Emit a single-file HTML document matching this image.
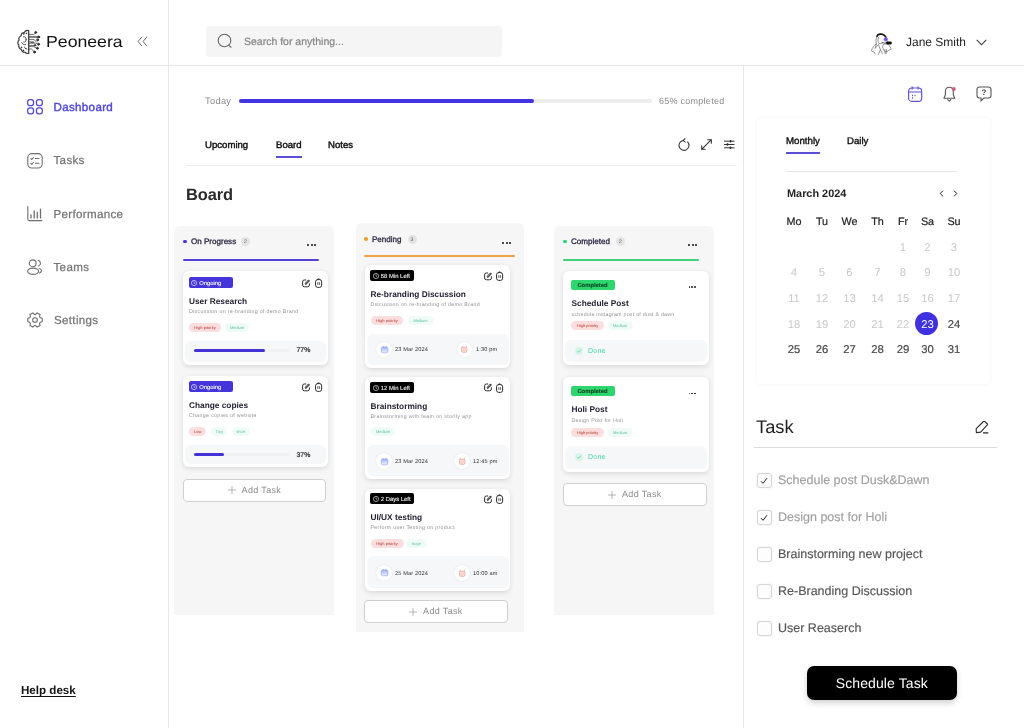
<!DOCTYPE html>
<html><head><meta charset="utf-8">
<style>
*{box-sizing:border-box;margin:0;padding:0}
html,body{width:1024px;height:728px;overflow:hidden;background:#fff}
body{font-family:"Liberation Sans",sans-serif;position:relative;color:#222;will-change:transform;text-rendering:geometricPrecision}
.a{position:absolute;white-space:nowrap;line-height:1}
.vl{position:absolute;width:1px;background:#e7e7e7}
.hl{position:absolute;height:1px;background:#e7e7e7}
svg{position:absolute;overflow:visible}
.nav{position:absolute;left:53.5px;font-size:11.6px;letter-spacing:.32px;margin-top:.4px;color:#747474;-webkit-text-stroke:.25px #747474;line-height:1;white-space:nowrap}
.col{position:absolute;background:#f6f6f6;border-radius:6px 6px 0 0}
.card{position:absolute;background:#fff;border-radius:6px;box-shadow:0 1.5px 5px rgba(0,0,0,.11)}
.tag{position:absolute;border-radius:2px;color:#fff;font-size:5.5px;font-weight:bold;line-height:1;white-space:nowrap}
.t{position:absolute;font-size:8.3px;font-weight:bold;color:#1e1d30;line-height:1;white-space:nowrap}
.d{position:absolute;font-size:5.3px;letter-spacing:.3px;color:#939393;line-height:1;white-space:nowrap}
.p{position:absolute;height:9px;border-radius:5px;font-size:4px;line-height:9px;text-align:center;white-space:nowrap}
.pr{background:#fcdede;color:#b5352b}
.pg{background:#effbf6;color:#5cc4a0}
.foot{position:absolute;background:#f5f7f9;border-radius:6px}
.add{position:absolute;background:#fff;border:1px solid #cfcfcf;border-radius:4px;font-size:8.5px;color:#8a8a8a;text-align:center;white-space:nowrap}
.ch{position:absolute;font-size:8.05px;-webkit-text-stroke:.28px #25233f;color:#25233f;line-height:1;white-space:nowrap}
.bd{position:absolute;width:9px;height:9px;border-radius:5px;background:#e3e3e3;color:#555;font-size:5px;line-height:10.4px;text-align:center}
.dots{position:absolute;font-size:0}
.dots i{display:inline-block;width:2px;height:2px;border-radius:1px;background:#111;margin-right:1.5px}
.circ{position:absolute;width:15.6px;height:15.6px;border-radius:8px;background:#fff;box-shadow:0 0 1.5px rgba(0,0,0,.13)}
.ft{position:absolute;font-size:5.6px;letter-spacing:.15px;color:#333;line-height:1;white-space:nowrap}
.wd{position:absolute;margin-top:1px;font-size:10.8px;color:#222;-webkit-text-stroke:.2px #222;line-height:1;white-space:nowrap;transform:translateX(-50%)}
.dy{position:absolute;font-size:11.3px;margin-top:2px;color:#c9c9c9;line-height:1;white-space:nowrap;transform:translateX(-50%)}
.dk{color:#4a4a4a;-webkit-text-stroke:.2px #4a4a4a}
.cb{position:absolute;left:756.5px;width:15px;height:15px;margin-top:0;border:1px solid #d6d6d6;border-radius:3px;background:#fdfdfd;box-shadow:0 0 2px rgba(0,0,0,.10)}
.ti{position:absolute;left:778px;font-size:12.5px;margin-top:1px;-webkit-text-stroke:.15px currentColor;line-height:1;white-space:nowrap;color:#555}
.ti.g{color:#a0a0a0}
</style></head><body>

<!-- frame lines -->
<div class="vl" style="left:168px;top:0;height:728px"></div>
<div class="hl" style="left:0;top:65px;width:1024px"></div>
<div class="vl" style="left:743px;top:65px;height:663px"></div>

<!-- LOGO -->
<svg style="left:17px;top:30px" width="24" height="24" viewBox="0 0 24 24" fill="none" stroke="#2b2b2b" stroke-width=".85" stroke-linecap="round" stroke-linejoin="round">
<path stroke-width="1.2" stroke="#333" d="M11.700.600C9.700.100 8 1.100 7.300 2.500 5.500 2.500 4.100 3.900 4.100 5.700 2.300 6.500 1.400 8.500 2.100 10.100.400 11.500.400 13.900 1.900 15.100 1.300 16.900 2.500 18.900 4.300 19.300 4.500 21.100 6.100 22.500 7.900 22.200 8.700 23.300 10.100 23.700 11.700 23.400z"/>
<path d="M6.500 6.800c1.700-.300 2.900 1 2.600 2.500M9.100 9.300c.300 1.600-.800 2.800-2.300 2.800M4.600 12.600c.600 1.500 2.200 2.300 3.900 2M7.300 17.200c.700.200 1.100.700 1.200 1.300M8.500 18.500l1.300.500"/>
<circle cx="9.300" cy="3.300" r=".35" fill="#2b2b2b"/><circle cx="6.700" cy="3.900" r=".35" fill="#2b2b2b"/><circle cx="4.400" cy="17.300" r=".35" fill="#2b2b2b"/><circle cx="6.300" cy="20.300" r=".35" fill="#2b2b2b"/>
<path stroke-width=".72" stroke="#3a3a3a" d="M12 4.400h4.800l1.500-1.300M12 6.400h9M12 7.600h9M12 9.600h5.200l2.300 2.600M12 11.800h4.400M12 13.200h6.400l2.300.800M14 12.500h3M12 15.400h5.200M12 16.600h4.400l3 1.400M12 19h2.400l2.700 2.600"/>
<circle cx="18.700" cy="2.400" r="1" fill="#444"/><circle cx="21.700" cy="7" r="1" fill="#444"/><circle cx="20.600" cy="9.900" r="1" fill="#444"/><circle cx="21.600" cy="14.300" r="1" fill="#444"/><circle cx="20.400" cy="18.300" r="1" fill="#444"/><circle cx="17.500" cy="22" r="1" fill="#444"/><circle cx="18" cy="15.400" r=".8" fill="#444"/>
</svg>
<div class="a" style="left:45.6px;top:35.4px;font-size:16px;color:#111;transform:scaleX(1.105);transform-origin:0 0">Peoneera</div>
<svg style="left:137px;top:36px" width="11" height="11" viewBox="0 0 11 11" fill="none" stroke="#666" stroke-width="1"><path d="M5 .8 1 5.5 5 10.2M10 .8 6 5.5 10 10.2"/></svg>

<!-- NAV -->
<svg style="left:27px;top:99px" width="16" height="16" viewBox="0 0 16 16" fill="none" stroke="#5146c9" stroke-width="1.250"><rect x=".650" y=".650" width="5.900" height="5.900" rx="2.300"/><rect x="9.450" y=".650" width="5.900" height="5.900" rx="2.300"/><rect x=".650" y="8.950" width="5.900" height="5.900" rx="2.300"/><rect x="9.450" y="8.950" width="5.900" height="5.900" rx="2.300"/></svg>
<svg style="left:27px;top:153px" width="16" height="16" viewBox="0 0 16 16" fill="none" stroke="#6e6e6e" stroke-width="1.100" stroke-linecap="round" stroke-linejoin="round"><rect x=".800" y=".600" width="14.400" height="14.400" rx="4"/><path d="M3.900 5.600l.900.900 1.600-1.800M8.400 5.500h3.600M3.900 10.400l.900.900 1.600-1.800M8.400 10.300h3.600"/></svg>
<svg style="left:27px;top:206px" width="16" height="16" viewBox="0 0 16 16" fill="none" stroke="#6e6e6e" stroke-width="1.100" stroke-linecap="round"><path d="M.800.500v12.600a1.500 1.500 0 0 0 1.500 1.500h12.500"/><path d="M4 8.800v3.200M7.200 4.800v7.200M10.300 6.400v5.600M13.500 3.200v8.800" stroke-width="1.300"/></svg>
<svg style="left:27px;top:259px" width="16" height="16" viewBox="0 0 16 16" fill="none" stroke="#6e6e6e" stroke-width="1.100" stroke-linecap="round"><circle cx="5.700" cy="4.300" r="3.400"/><ellipse cx="6.100" cy="12.250" rx="5.500" ry="3.100"/><path d="M11.300 1.400a3 3 0 0 1 .200 5.700M12.300 9.500c2.400.600 3.200 3.300.300 4.600"/></svg>
<svg style="left:26.800px;top:312.400px" width="16" height="16" viewBox="0 0 16 16" fill="none" stroke="#6e6e6e" stroke-width="1.100" stroke-linejoin="round"><path d="M13.25 5.77 L15.21 6.34 L15.21 9.66 L13.25 10.23 L12.55 11.43 L13.05 13.41 L10.16 15.08 L8.69 13.66 L7.31 13.66 L5.84 15.08 L2.95 13.41 L3.45 11.43 L2.75 10.23 L0.79 9.66 L0.79 6.34 L2.75 5.77 L3.45 4.57 L2.95 2.59 L5.84 0.92 L7.31 2.34 L8.69 2.34 L10.16 0.92 L13.05 2.59 L12.55 4.57z"/><circle cx="8" cy="8" r="2.300"/></svg>
<div class="nav" style="top:101.9px;color:#5146d9;font-size:11.6px;-webkit-text-stroke:.4px #5146d9">Dashboard</div>
<div class="nav" style="top:155px">Tasks</div>
<div class="nav" style="top:208.2px">Performance</div>
<div class="nav" style="top:262px">Teams</div>
<div class="nav" style="top:315px;left:54px">Settings</div>
<div class="a" style="left:21px;top:685.3px;font-size:11.6px;font-weight:bold;color:#111;text-decoration:underline;text-underline-offset:2px">Help desk</div>

<!-- SEARCH -->
<div class="a" style="left:206px;top:26px;width:296px;height:31px;background:#f5f5f5;border-radius:4px"></div>
<svg style="left:217px;top:33px" width="16" height="16" viewBox="0 0 16 16" fill="none" stroke="#666" stroke-width="1.1"><circle cx="7.5" cy="7.5" r="6.3"/><path d="M12 12.3l2.3 2.4"/></svg>
<div class="a" style="left:244px;top:36.5px;font-size:10.5px;color:#858585;-webkit-text-stroke:.2px #858585">Search for anything...</div>

<!-- USER -->
<svg style="left:870px;top:31px" width="24" height="24" viewBox="0 0 24 24" fill="none" stroke="#5a5a5a" stroke-width=".62" stroke-linecap="round" stroke-linejoin="round">
<path d="M7 5.400C7.400 3.400 10 2.600 12.300 3.300 14 3.800 15.300 5 16 6.300" stroke="#111" stroke-width="1.700"/>
<path d="M7.200 5.500C5.800 7.500 5.600 10.500 6.400 13 4.400 13.500 2.300 16.800 1.400 19.800L4 21 5.300 23M6.400 13 5 17.500 8.500 13.500M8.500 6.500C7.600 8.600 7.800 11 9 12.600 10.500 13 12 12.600 13 11.600M8.800 14.400 10.400 18.600 8.400 23.500M10.400 18.600 12.400 22.800M14 13c2-.600 4.200 0 5.400 1.600l1.800 3.400-4 2.400-2.200.300-1.400-1.800-1-2.800zM14.800 18.400l.400 4.400 1-.100.200-4"/>
<circle cx="15.800" cy="8.300" r="1.900" fill="#7a4fe0" stroke="#9b7bf0" stroke-width=".5"/>
<rect x="16" y="10.700" width="5.700" height="2.600" rx="1.300" fill="#111" stroke="#111" stroke-width=".4"/>
<path d="M12 11.600l4 .600" stroke="#555" stroke-width=".9"/>
</svg>
<div class="a" style="left:906px;top:36.3px;font-size:12px;color:#222">Jane Smith</div>
<svg style="left:976px;top:39px" width="11" height="7" viewBox="0 0 11 7" fill="none" stroke="#444" stroke-width="1.1"><path d="M.7.8 5.5 5.6 10.3.8"/></svg>

<!-- PROGRESS + TABS -->
<div class="a" style="left:205px;top:96.5px;font-size:9.3px;letter-spacing:.3px;color:#8a8a8a">Today</div>
<div class="a" style="left:239px;top:99px;width:413px;height:4px;border-radius:2px;background:#ececec"></div>
<div class="a" style="left:239px;top:99px;width:295px;height:4px;border-radius:2px;background:#4433e0"></div>
<div class="a" style="left:659px;top:96.5px;font-size:9px;letter-spacing:.26px;color:#8a8a8a">65% completed</div>
<div class="a" style="left:205px;top:141px;font-size:9.6px;color:#111;-webkit-text-stroke:.42px #111">Upcoming</div>
<div class="a" style="left:276px;top:141px;font-size:9.6px;color:#111;-webkit-text-stroke:.42px #111">Board</div>
<div class="a" style="left:328px;top:141px;font-size:9.6px;color:#111;-webkit-text-stroke:.42px #111">Notes</div>
<div class="a" style="left:276px;top:156px;width:26px;height:2px;background:#5b4fd6"></div>
<div class="hl" style="left:186px;top:164.5px;width:551px;background:#efefef"></div>
<svg style="left:678px;top:137.600px" width="12" height="14" viewBox="0 0 12 14" fill="none" stroke="#333" stroke-width="1.050" stroke-linecap="round" stroke-linejoin="round"><path d="M5.300 2.400A5 5 0 1 0 9.600 3.900"/><path d="M7 .600 5.200 2.400 7.200 4.100"/></svg>
<svg style="left:701.400px;top:138.800px" width="11" height="11" viewBox="0 0 11 11" fill="none" stroke="#333" stroke-width="1.100" stroke-linecap="round" stroke-linejoin="round"><path d="M.700 10.300 10.300.700M6.800.700h3.500v3.500M.700 6.800v3.500h3.500"/></svg>
<svg style="left:724.400px;top:139.600px" width="10.500" height="9" viewBox="0 0 10.500 9" fill="none" stroke="#333" stroke-width="1"><path d="M0 1.200h10.500M0 4.500h10.500M0 7.800h10.500"/><path d="M6.500 0v2.400M3.500 3.300v2.400M6.500 6.600v2.400" stroke-width="1.500"/></svg>
<div class="a" style="left:186px;top:186.5px;font-size:16.4px;font-weight:bold;color:#2a2a2a;letter-spacing:-.1px">Board</div>

<!-- BOARD -->
<!--BOARD-START-->
<div class="col" style="left:174px;top:225.500px;width:160px;height:389px"></div>
<div class="a" style="left:183px;top:239.500px;width:3.500px;height:3.500px;border-radius:2px;background:#4433e0"></div>
<div class="ch" style="left:191px;top:237.500px">On Progress</div>
<div class="bd" style="left:241px;top:236.500px">2</div>
<div class="dots" style="left:307px;top:244px"><i style="width:2px;height:2px;margin-right:1.5px;background:#111"></i><i style="width:2px;height:2px;margin-right:1.5px;background:#111"></i><i style="width:2px;height:2px;margin-right:1.5px;background:#111"></i></div>
<div class="a" style="left:183px;top:258.500px;width:136px;height:2px;background:#5341d6;border-radius:1px"></div>
<div class="card" style="left:183px;top:271px;width:145px;height:94px"></div>
<div class="tag" style="left:189px;top:277px;width:44px;height:11px;background:#4434dc"></div>
<svg style="left:191px;top:279.5px" width="6" height="6" viewBox="0 0 6 6" fill="none" stroke="#fff" stroke-width=".6"><circle cx="3" cy="3" r="2.600"/><path d="M3 1.500V3l1 .600"/></svg>
<div class="a" style="left:199.300px;top:281.6px;font-size:5.800px;-webkit-text-stroke:.12px #fff;color:#fff">Ongoing</div>
<svg style="left:302px;top:278.6px" width="8.400" height="8.400" viewBox="0 0 8.400 8.400" fill="none" stroke="#2a2a2a" stroke-width="1" stroke-linecap="round"><path d="M3.800 1H2.400A1.800 1.800 0 0 0 .600 2.800v3.200A1.800 1.800 0 0 0 2.400 7.800h3.200A1.800 1.800 0 0 0 7.400 6V4.700"/><path d="M3.700 4.700 6.700 1.700" stroke-width="2"/><path d="M3.800 4.600 6.600 1.800" stroke="#fff" stroke-width=".55"/></svg>
<svg style="left:315px;top:278px" width="7.200" height="10" viewBox="0 0 7.200 10" fill="none" stroke="#2a2a2a" stroke-width="1"><path d="M2.300 1.900C2.300.300 4.900.300 4.900 1.900" stroke-width=".8"/><rect x=".550" y="1.600" width="6.100" height="7.800" rx="2.200"/><path d="M2.800 4.300v2.500M4.400 4.300v2.500" stroke-width=".8"/></svg>
<div class="t" style="left:189px;top:297px">User Research</div>
<div class="d" style="left:189px;top:310px">Discussion on re-branding of demo Brand</div>
<div class="p pr" style="left:189px;top:322.8px;width:32px">High priority</div>
<div class="p pg" style="left:225px;top:322.8px;width:24px">Medium</div>
<div class="foot" style="left:185px;top:341px;width:141px;height:21px"></div>
<div class="a" style="left:194px;top:349.0px;width:96px;height:3.200px;border-radius:2px;background:#eff1f3"></div>
<div class="a" style="left:194px;top:349.0px;width:71px;height:3.200px;border-radius:2px;background:#4232d6"></div>
<div class="a" style="left:296.500px;top:348.3px;font-size:6.900px;-webkit-text-stroke:.2px #222;color:#222">77%</div>
<div class="card" style="left:183px;top:376.4px;width:145px;height:90.6px"></div>
<div class="tag" style="left:189px;top:381.09999999999997px;width:44px;height:11px;background:#4434dc"></div>
<svg style="left:191px;top:383.59999999999997px" width="6" height="6" viewBox="0 0 6 6" fill="none" stroke="#fff" stroke-width=".6"><circle cx="3" cy="3" r="2.600"/><path d="M3 1.500V3l1 .600"/></svg>
<div class="a" style="left:199.300px;top:385.7px;font-size:5.800px;-webkit-text-stroke:.12px #fff;color:#fff">Ongoing</div>
<svg style="left:302px;top:382.7px" width="8.400" height="8.400" viewBox="0 0 8.400 8.400" fill="none" stroke="#2a2a2a" stroke-width="1" stroke-linecap="round"><path d="M3.800 1H2.400A1.800 1.800 0 0 0 .600 2.800v3.200A1.800 1.800 0 0 0 2.400 7.800h3.200A1.800 1.800 0 0 0 7.400 6V4.700"/><path d="M3.700 4.700 6.700 1.700" stroke-width="2"/><path d="M3.800 4.600 6.600 1.800" stroke="#fff" stroke-width=".55"/></svg>
<svg style="left:315px;top:382.09999999999997px" width="7.200" height="10" viewBox="0 0 7.200 10" fill="none" stroke="#2a2a2a" stroke-width="1"><path d="M2.300 1.900C2.300.300 4.900.300 4.900 1.900" stroke-width=".8"/><rect x=".550" y="1.600" width="6.100" height="7.800" rx="2.200"/><path d="M2.800 4.300v2.500M4.400 4.300v2.500" stroke-width=".8"/></svg>
<div class="t" style="left:189px;top:401.09999999999997px">Change copies</div>
<div class="d" style="left:189px;top:414.09999999999997px">Change copies of website</div>
<div class="p pr" style="left:189.3px;top:426.9px;width:17px">Low</div>
<div class="p pg" style="left:211.3px;top:426.9px;width:16px">Tiny</div>
<div class="p pg" style="left:232px;top:426.9px;width:17.5px">short</div>
<div class="foot" style="left:185px;top:444.59999999999997px;width:141px;height:19.8px"></div>
<div class="a" style="left:194px;top:452.59999999999997px;width:96px;height:3.200px;border-radius:2px;background:#eff1f3"></div>
<div class="a" style="left:194px;top:452.59999999999997px;width:30px;height:3.200px;border-radius:2px;background:#4232d6"></div>
<div class="a" style="left:296.500px;top:452.59999999999997px;font-size:6.900px;-webkit-text-stroke:.2px #222;color:#222">37%</div>
<div class="add" style="left:182.8px;top:478.5px;width:143.5px;height:23.3px"></div><svg style="left:227.55px;top:486.15px" width="8" height="8" viewBox="0 0 8 8" stroke="#999" stroke-width=".7"><path d="M4 0v8M0 4h8"/></svg><div class="a" style="left:241.55px;top:485.65px;font-size:9px;color:#8a8a8a;letter-spacing:.35px">Add Task</div>
<div class="col" style="left:355.800px;top:223px;width:168.400px;height:409px"></div>
<div class="a" style="left:364.200px;top:237.400px;width:3.800px;height:3.800px;border-radius:2px;background:#ec9a24"></div>
<div class="ch" style="left:372px;top:236px">Pending</div>
<div class="bd" style="left:407.500px;top:235.300px">3</div>
<div class="dots" style="left:502.3px;top:241.8px"><i style="width:2px;height:2px;margin-right:1.5px;background:#111"></i><i style="width:2px;height:2px;margin-right:1.5px;background:#111"></i><i style="width:2px;height:2px;margin-right:1.5px;background:#111"></i></div>
<div class="a" style="left:364px;top:255.200px;width:151px;height:2px;background:#efa044;border-radius:1px"></div>
<div class="card" style="left:365px;top:265px;width:145px;height:103px"></div>
<div class="tag" style="left:370px;top:270px;width:44px;height:11px;background:#000"></div>
<svg style="left:373px;top:272.9px" width="6" height="6" viewBox="0 0 6 6" fill="none" stroke="#fff" stroke-width=".6"><circle cx="3" cy="3" r="2.600"/><path d="M3 1.500V3l1 .600"/></svg>
<div class="a" style="left:380.800px;top:274.95px;font-size:5.900px;-webkit-text-stroke:.12px #eee;color:#eee">58 Min Left</div>
<svg style="left:483.5px;top:271.8px" width="8.400" height="8.400" viewBox="0 0 8.400 8.400" fill="none" stroke="#2a2a2a" stroke-width="1" stroke-linecap="round"><path d="M3.800 1H2.400A1.800 1.800 0 0 0 .600 2.800v3.200A1.800 1.800 0 0 0 2.400 7.800h3.200A1.800 1.800 0 0 0 7.400 6V4.700"/><path d="M3.700 4.700 6.700 1.700" stroke-width="2"/><path d="M3.800 4.600 6.600 1.800" stroke="#fff" stroke-width=".55"/></svg>
<svg style="left:496.2px;top:271.3px" width="7.200" height="10" viewBox="0 0 7.200 10" fill="none" stroke="#2a2a2a" stroke-width="1"><path d="M2.300 1.900C2.300.300 4.900.300 4.900 1.900" stroke-width=".8"/><rect x=".550" y="1.600" width="6.100" height="7.800" rx="2.200"/><path d="M2.800 4.300v2.500M4.400 4.300v2.500" stroke-width=".8"/></svg>
<div class="t" style="left:370.500px;top:290px">Re-branding Discussion</div>
<div class="d" style="left:370.500px;top:303px">Discussion on re-branding of demo Brand</div>
<div class="p pr" style="left:371px;top:315.6px;width:32px">High priority</div>
<div class="p pg" style="left:407.5px;top:315.6px;width:26px">Medium</div>
<div class="foot" style="left:366.500px;top:334px;width:142.500px;height:31px"></div>
<div class="circ" style="left:376.400px;top:341.6px"></div>
<svg style="left:381px;top:345.9px" width="7.200" height="7" viewBox="0 0 7.200 7"><defs><linearGradient id="cg" x1="0" y1="0" x2="0" y2="1"><stop offset="0" stop-color="#9fb3f3"/><stop offset=".45" stop-color="#c3d0f8"/><stop offset="1" stop-color="#eef2fd"/></linearGradient></defs><rect x=".2" y=".9" width="6.800" height="5.900" rx="1.700" fill="url(#cg)" stroke="#7f99ee" stroke-width=".55"/><path d="M2.100.200v1.300M5.100.200v1.300" stroke="#7d95ec" stroke-width=".7" fill="none"/></svg>
<div class="ft" style="left:395px;top:348.4px">23 Mar 2024</div>
<div class="circ" style="left:456.6px;top:341.6px"></div>
<svg style="left:461.20000000000005px;top:346.2px" width="6.400" height="6.600" viewBox="0 0 6.400 6.600" fill="#fff3ef" stroke="#e58d7c" stroke-width=".65"><rect x=".500" y="1.300" width="5.400" height="5" rx="1.300"/><circle cx="3.200" cy="3.900" r="1.300" fill="none" stroke-width=".5"/><path d="M.400 1.200 1.700.300M6 1.200 4.700.300" fill="none" stroke-width=".8"/></svg>
<div class="ft" style="left:476px;top:348.4px">1:30 pm</div>
<div class="card" style="left:365px;top:377px;width:145px;height:102px"></div>
<div class="tag" style="left:370px;top:381.6px;width:44px;height:11px;background:#000"></div>
<svg style="left:373px;top:384.5px" width="6" height="6" viewBox="0 0 6 6" fill="none" stroke="#fff" stroke-width=".6"><circle cx="3" cy="3" r="2.600"/><path d="M3 1.500V3l1 .600"/></svg>
<div class="a" style="left:380.800px;top:386.55px;font-size:5.900px;-webkit-text-stroke:.12px #eee;color:#eee">12 Min Left</div>
<svg style="left:483.5px;top:383.40000000000003px" width="8.400" height="8.400" viewBox="0 0 8.400 8.400" fill="none" stroke="#2a2a2a" stroke-width="1" stroke-linecap="round"><path d="M3.800 1H2.400A1.800 1.800 0 0 0 .600 2.800v3.200A1.800 1.800 0 0 0 2.400 7.800h3.200A1.800 1.800 0 0 0 7.400 6V4.700"/><path d="M3.700 4.700 6.700 1.700" stroke-width="2"/><path d="M3.800 4.600 6.600 1.800" stroke="#fff" stroke-width=".55"/></svg>
<svg style="left:496.2px;top:382.90000000000003px" width="7.200" height="10" viewBox="0 0 7.200 10" fill="none" stroke="#2a2a2a" stroke-width="1"><path d="M2.300 1.900C2.300.300 4.900.300 4.900 1.900" stroke-width=".8"/><rect x=".550" y="1.600" width="6.100" height="7.800" rx="2.200"/><path d="M2.800 4.300v2.500M4.400 4.300v2.500" stroke-width=".8"/></svg>
<div class="t" style="left:370.500px;top:401.6px">Brainstorming</div>
<div class="d" style="left:370.500px;top:414.6px">Brainstorming with team on storlly app</div>
<div class="p pg" style="left:371px;top:427.20000000000005px;width:24px">Medium</div>
<div class="foot" style="left:366.500px;top:445px;width:142.500px;height:31px"></div>
<div class="circ" style="left:376.400px;top:453.40000000000003px"></div>
<svg style="left:381px;top:457.7px" width="7.200" height="7" viewBox="0 0 7.200 7"><defs><linearGradient id="cg" x1="0" y1="0" x2="0" y2="1"><stop offset="0" stop-color="#9fb3f3"/><stop offset=".45" stop-color="#c3d0f8"/><stop offset="1" stop-color="#eef2fd"/></linearGradient></defs><rect x=".2" y=".9" width="6.800" height="5.900" rx="1.700" fill="url(#cg)" stroke="#7f99ee" stroke-width=".55"/><path d="M2.100.200v1.300M5.100.200v1.300" stroke="#7d95ec" stroke-width=".7" fill="none"/></svg>
<div class="ft" style="left:395px;top:460.2px">23 Mar 2024</div>
<div class="circ" style="left:454px;top:453.40000000000003px"></div>
<svg style="left:458.6px;top:458.0px" width="6.400" height="6.600" viewBox="0 0 6.400 6.600" fill="#fff3ef" stroke="#e58d7c" stroke-width=".65"><rect x=".500" y="1.300" width="5.400" height="5" rx="1.300"/><circle cx="3.200" cy="3.900" r="1.300" fill="none" stroke-width=".5"/><path d="M.400 1.200 1.700.300M6 1.200 4.700.300" fill="none" stroke-width=".8"/></svg>
<div class="ft" style="left:473px;top:460.2px">12:45 pm</div>
<div class="card" style="left:365px;top:489px;width:145px;height:102px"></div>
<div class="tag" style="left:370px;top:493.1px;width:44px;height:11px;background:#000"></div>
<svg style="left:373px;top:496.0px" width="6" height="6" viewBox="0 0 6 6" fill="none" stroke="#fff" stroke-width=".6"><circle cx="3" cy="3" r="2.600"/><path d="M3 1.500V3l1 .600"/></svg>
<div class="a" style="left:380.800px;top:498.05px;font-size:5.900px;-webkit-text-stroke:.12px #eee;color:#eee">2 Days Left</div>
<svg style="left:483.5px;top:494.90000000000003px" width="8.400" height="8.400" viewBox="0 0 8.400 8.400" fill="none" stroke="#2a2a2a" stroke-width="1" stroke-linecap="round"><path d="M3.800 1H2.400A1.800 1.800 0 0 0 .600 2.800v3.200A1.800 1.800 0 0 0 2.400 7.800h3.200A1.800 1.800 0 0 0 7.400 6V4.700"/><path d="M3.700 4.700 6.700 1.700" stroke-width="2"/><path d="M3.800 4.600 6.600 1.800" stroke="#fff" stroke-width=".55"/></svg>
<svg style="left:496.2px;top:494.40000000000003px" width="7.200" height="10" viewBox="0 0 7.200 10" fill="none" stroke="#2a2a2a" stroke-width="1"><path d="M2.300 1.900C2.300.300 4.900.300 4.900 1.900" stroke-width=".8"/><rect x=".550" y="1.600" width="6.100" height="7.800" rx="2.200"/><path d="M2.800 4.300v2.500M4.400 4.300v2.500" stroke-width=".8"/></svg>
<div class="t" style="left:370.500px;top:513.1px">UI/UX testing</div>
<div class="d" style="left:370.500px;top:526.1px">Perform user Testing on product</div>
<div class="p pr" style="left:370.5px;top:538.7px;width:33px">High priority</div>
<div class="p pg" style="left:406px;top:538.7px;width:21px">huge</div>
<div class="foot" style="left:366.500px;top:556px;width:142.500px;height:32px"></div>
<div class="circ" style="left:376.400px;top:565.1px"></div>
<svg style="left:381px;top:569.4px" width="7.200" height="7" viewBox="0 0 7.200 7"><defs><linearGradient id="cg" x1="0" y1="0" x2="0" y2="1"><stop offset="0" stop-color="#9fb3f3"/><stop offset=".45" stop-color="#c3d0f8"/><stop offset="1" stop-color="#eef2fd"/></linearGradient></defs><rect x=".2" y=".9" width="6.800" height="5.900" rx="1.700" fill="url(#cg)" stroke="#7f99ee" stroke-width=".55"/><path d="M2.100.200v1.300M5.100.200v1.300" stroke="#7d95ec" stroke-width=".7" fill="none"/></svg>
<div class="ft" style="left:395px;top:571.9px">25 Mar 2024</div>
<div class="circ" style="left:454.2px;top:565.1px"></div>
<svg style="left:458.8px;top:569.7px" width="6.400" height="6.600" viewBox="0 0 6.400 6.600" fill="#fff3ef" stroke="#e58d7c" stroke-width=".65"><rect x=".500" y="1.300" width="5.400" height="5" rx="1.300"/><circle cx="3.200" cy="3.900" r="1.300" fill="none" stroke-width=".5"/><path d="M.400 1.200 1.700.300M6 1.200 4.700.300" fill="none" stroke-width=".8"/></svg>
<div class="ft" style="left:473px;top:571.9px">10:00 am</div>
<div class="add" style="left:364.3px;top:600.2px;width:143.5px;height:23px"></div><svg style="left:409.05px;top:607.7px" width="8" height="8" viewBox="0 0 8 8" stroke="#999" stroke-width=".7"><path d="M4 0v8M0 4h8"/></svg><div class="a" style="left:423.05px;top:607.2px;font-size:9px;color:#8a8a8a;letter-spacing:.35px">Add Task</div>
<div class="col" style="left:554px;top:225.500px;width:160px;height:389px"></div>
<div class="a" style="left:563px;top:239.500px;width:3.500px;height:3.500px;border-radius:2px;background:#2fd07a"></div>
<div class="ch" style="left:571px;top:237.500px">Completed</div>
<div class="bd" style="left:616px;top:236.500px">2</div>
<div class="dots" style="left:688px;top:244px"><i style="width:2px;height:2px;margin-right:1.5px;background:#111"></i><i style="width:2px;height:2px;margin-right:1.5px;background:#111"></i><i style="width:2px;height:2px;margin-right:1.5px;background:#111"></i></div>
<div class="a" style="left:563px;top:258.500px;width:136px;height:2px;background:#42d27c;border-radius:1px"></div>
<div class="card" style="left:563px;top:271px;width:146px;height:94px"></div>
<div class="tag" style="left:571px;top:279.5px;width:44px;height:10.500px;background:#2dd66e;color:#0b4a25;text-align:center;line-height:12.300px;font-size:5.850px;-webkit-text-stroke:.12px #0b4a25;text-indent:-1px">Completed</div>
<div class="dots" style="left:688.8px;top:286.2px"><i style="width:1.7px;height:1.7px;margin-right:0.9px;background:#222"></i><i style="width:1.7px;height:1.7px;margin-right:0.9px;background:#222"></i><i style="width:1.7px;height:1.7px;margin-right:0.9px;background:#222"></i></div>
<div class="t" style="left:571.500px;top:298.9px">Schedule Post</div>
<div class="d" style="left:571.500px;top:312.9px;letter-spacing:.24px">schedule instagram post of dust &amp; dawn</div>
<div class="p pr" style="left:571.3px;top:321.2px;width:32.5px">High priority</div>
<div class="p pg" style="left:607.5px;top:321.2px;width:25px">Medium</div>
<div class="foot" style="left:565px;top:340px;width:142px;height:22px"></div>
<svg style="left:575px;top:347px" width="8" height="8" viewBox="0 0 8 8" fill="#d6f5e6" stroke="#3dd6a0" stroke-width=".700"><rect x=".300" y=".300" width="7.400" height="7.400" rx="2.600" stroke="none"/><path d="M2.300 4.100 3.500 5.300 5.800 2.700" fill="none"/></svg>
<div class="a" style="left:588px;top:347.9px;font-size:7px;letter-spacing:.25px;color:#3dd6a0">Done</div>
<div class="card" style="left:563px;top:377.3px;width:146px;height:94.5px"></div>
<div class="tag" style="left:571px;top:385.8px;width:44px;height:10.500px;background:#2dd66e;color:#0b4a25;text-align:center;line-height:12.300px;font-size:5.850px;-webkit-text-stroke:.12px #0b4a25;text-indent:-1px">Completed</div>
<div class="dots" style="left:688.8px;top:392.5px"><i style="width:1.7px;height:1.7px;margin-right:0.9px;background:#222"></i><i style="width:1.7px;height:1.7px;margin-right:0.9px;background:#222"></i><i style="width:1.7px;height:1.7px;margin-right:0.9px;background:#222"></i></div>
<div class="t" style="left:571.500px;top:405.2px">Holi Post</div>
<div class="d" style="left:571.500px;top:419.2px;letter-spacing:.24px">Design Post for Holi</div>
<div class="p pr" style="left:571.3px;top:427.5px;width:32.5px">High priority</div>
<div class="p pg" style="left:607.5px;top:427.5px;width:25px">Medium</div>
<div class="foot" style="left:565px;top:446.0px;width:142px;height:22.8px"></div>
<svg style="left:575px;top:453.0px" width="8" height="8" viewBox="0 0 8 8" fill="#d6f5e6" stroke="#3dd6a0" stroke-width=".700"><rect x=".300" y=".300" width="7.400" height="7.400" rx="2.600" stroke="none"/><path d="M2.300 4.100 3.500 5.300 5.800 2.700" fill="none"/></svg>
<div class="a" style="left:588px;top:453.9px;font-size:7px;letter-spacing:.25px;color:#3dd6a0">Done</div>
<div class="add" style="left:563.2px;top:483.2px;width:143.5px;height:23.2px"></div><svg style="left:607.95px;top:490.8px" width="8" height="8" viewBox="0 0 8 8" stroke="#999" stroke-width=".7"><path d="M4 0v8M0 4h8"/></svg><div class="a" style="left:621.95px;top:490.3px;font-size:9px;color:#8a8a8a;letter-spacing:.35px">Add Task</div>
<!--BOARD-END-->
<!-- RIGHT -->
<svg style="left:908px;top:86px" width="14.3" height="16" viewBox="0 0 14.3 16" fill="none" stroke="#5b4fd6" stroke-width="1.15"><rect x=".6" y="2" width="13.1" height="13.4" rx="3.2"/><path d="M.6 6h13.100M4.200.400v3M10.100.400v3"/><path d="M4 9.5h1M6.5 9.5h1M4 12h1" stroke-width="1.3"/></svg>
<svg style="left:943px;top:86px" width="13" height="16" viewBox="0 0 13 16" fill="none" stroke="#555" stroke-width="1.100" stroke-linejoin="round"><path d="M6.300 1.200c-2.300 0-3.900 1.800-3.900 4.300v3.300L.900 12.200h10.900l-1.500-3.400V5.500c0-2.500-1.600-4.300-4-4.300zM4.600 13.200c.300 1.100.900 1.700 1.700 1.700s1.400-.600 1.700-1.700"/><circle cx="10.800" cy="2.900" r="2" fill="#c95c80" stroke="none"/></svg>
<svg style="left:976px;top:86px" width="16" height="16" viewBox="0 0 16 16" fill="none" stroke="#555" stroke-width="1.1"><path d="M3.500 1h9A2.500 2.500 0 0 1 15 3.500v6A2.500 2.500 0 0 1 12.500 12H8l-3 2.800V12H3.500A2.500 2.500 0 0 1 1 9.500v-6A2.500 2.500 0 0 1 3.500 1z"/></svg>
<div class="a" style="left:980.500px;top:89.3px;font-size:8px;font-weight:bold;color:#444;width:7px;text-align:center">?</div>
<div class="a" style="left:757px;top:118px;width:233px;height:266px;background:#fff;border-radius:4px;box-shadow:0 0 4px rgba(0,0,0,.055)"></div>
<div class="a" style="left:786px;top:137px;font-size:9.7px;color:#111;-webkit-text-stroke:.38px #111">Monthly</div>
<div class="a" style="left:847px;top:137px;font-size:9.6px;color:#111;-webkit-text-stroke:.38px #111">Daily</div>
<div class="a" style="left:786px;top:152px;width:34px;height:2px;background:#5b4fd6"></div>
<div class="hl" style="left:786px;top:171px;width:171px;background:#e6e6e6"></div>
<div class="a" style="left:787px;top:188.6px;font-size:10.9px;font-weight:bold;color:#222">March 2024</div>
<svg style="left:939px;top:190px" width="5" height="7" viewBox="0 0 5 7" fill="none" stroke="#222" stroke-width="1"><path d="M4 .700 1.200 3.500 4 6.300"/></svg>
<svg style="left:953px;top:190px" width="5" height="7" viewBox="0 0 5 7" fill="none" stroke="#222" stroke-width="1"><path d="M1 .700 3.800 3.500 1 6.300"/></svg>
<div class="wd" style="left:794px;top:216px">Mo</div>
<div class="wd" style="left:822px;top:216px">Tu</div>
<div class="wd" style="left:849.5px;top:216px">We</div>
<div class="wd" style="left:877.5px;top:216px">Th</div>
<div class="wd" style="left:903px;top:216px">Fr</div>
<div class="wd" style="left:927.5px;top:216px">Sa</div>
<div class="wd" style="left:954px;top:216px">Su</div>
<div class="a" style="left:915px;top:312.2px;width:23px;height:23px;border-radius:12px;background:#3f30e0"></div>
<div class="dy" style="left:903px;top:241px;">1</div>
<div class="dy" style="left:927.5px;top:241px;">2</div>
<div class="dy" style="left:954px;top:241px;">3</div>
<div class="dy" style="left:794px;top:266px;">4</div>
<div class="dy" style="left:822px;top:266px;">5</div>
<div class="dy" style="left:849.5px;top:266px;">6</div>
<div class="dy" style="left:877.5px;top:266px;">7</div>
<div class="dy" style="left:903px;top:266px;">8</div>
<div class="dy" style="left:927.5px;top:266px;">9</div>
<div class="dy" style="left:954px;top:266px;">10</div>
<div class="dy" style="left:794px;top:292px;">11</div>
<div class="dy" style="left:822px;top:292px;">12</div>
<div class="dy" style="left:849.5px;top:292px;">13</div>
<div class="dy" style="left:877.5px;top:292px;">14</div>
<div class="dy" style="left:903px;top:292px;">15</div>
<div class="dy" style="left:927.5px;top:292px;">16</div>
<div class="dy" style="left:954px;top:292px;">17</div>
<div class="dy" style="left:794px;top:317.5px;">18</div>
<div class="dy" style="left:822px;top:317.5px;">19</div>
<div class="dy" style="left:849.5px;top:317.5px;">20</div>
<div class="dy" style="left:877.5px;top:317.5px;">21</div>
<div class="dy" style="left:903px;top:317.5px;">22</div>
<div class="dy" style="left:927.5px;top:317.5px;color:#fff;">23</div>
<div class="dy dk" style="left:954px;top:317.5px;">24</div>
<div class="dy dk" style="left:794px;top:343px;">25</div>
<div class="dy dk" style="left:822px;top:343px;">26</div>
<div class="dy dk" style="left:849.5px;top:343px;">27</div>
<div class="dy dk" style="left:877.5px;top:343px;">28</div>
<div class="dy dk" style="left:903px;top:343px;">29</div>
<div class="dy dk" style="left:927.5px;top:343px;">30</div>
<div class="dy dk" style="left:954px;top:343px;">31</div>
<div class="a" style="left:756px;top:418.4px;font-size:18.3px;color:#222">Task</div>
<svg style="left:975px;top:420px" width="14" height="14" viewBox="0 0 14 14" fill="none" stroke="#2e2e2e" stroke-width="1.15" stroke-linejoin="round" stroke-linecap="round"><path d="M8.500 1.500Q9.100.900 9.700 1.500L12.300 3.700Q12.900 4.300 12.300 4.900L5.600 12.100 1.900 12.600Q1.300 12.600 1.300 12L1.200 8.700z"/><path d="M8 12.900h5.400" stroke-width="1.3" stroke-linecap="butt"/></svg>
<div class="hl" style="left:754px;top:447px;width:243px;background:#dcdcdc"></div>
<div class="cb" style="top:473px"></div><svg style="left:760px;top:476.5px" width="8" height="8" viewBox="0 0 8 8" fill="none" stroke="#222" stroke-width="1"><path d="M1 4.200 3 6.300 7 1.200"/></svg><div class="ti g" style="top:473px">Schedule post Dusk&amp;Dawn</div>
<div class="cb" style="top:510px"></div><svg style="left:760px;top:513.5px" width="8" height="8" viewBox="0 0 8 8" fill="none" stroke="#222" stroke-width="1"><path d="M1 4.200 3 6.300 7 1.200"/></svg><div class="ti g" style="top:510px">Design post for Holi</div>
<div class="cb" style="top:547px"></div><div class="ti" style="top:547px">Brainstorming new project</div>
<div class="cb" style="top:584px"></div><div class="ti" style="top:584px">Re-Branding Discussion</div>
<div class="cb" style="top:621px"></div><div class="ti" style="top:621px">User Reaserch</div>
<div class="a" style="left:806.8px;top:665.8px;width:150px;height:34.5px;letter-spacing:.1px;background:#000;border-radius:7px;box-shadow:0 3px 6px rgba(0,0,0,.18);color:#fff;font-size:14px;text-align:center;line-height:34px">Schedule Task</div>


</body></html>
